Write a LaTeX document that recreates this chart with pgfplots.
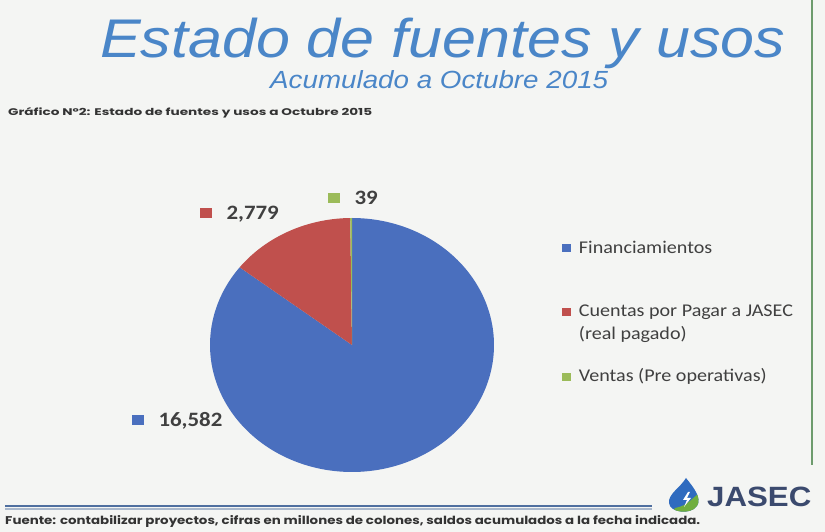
\documentclass[border=0pt]{standalone}
\usepackage{pgfplots}
\pgfplotsset{compat=1.18}
\usepackage{pgfplotstable}
\usepackage{fontspec}
\setmainfont{Liberation Sans}
\newfontfamily\carlito{Carlito}
\newfontfamily\gothic{Poppins}
\definecolor{bgcol}{HTML}{F4F5F3}
\definecolor{titleblue}{HTML}{4A86C8}
\definecolor{pieblue}{HTML}{4A6FBE}
\definecolor{piered}{HTML}{C0504D}
\definecolor{piegreen}{HTML}{9BBB59}
\definecolor{labelgray}{HTML}{404040}
\definecolor{greenline}{HTML}{6D9B6D}
\definecolor{lineblue}{HTML}{4F6F9F}
\definecolor{lightline}{HTML}{A9B8CC}
\definecolor{logoblue}{HTML}{2F6BBF}
\definecolor{logogreen}{HTML}{6FAE3F}
\definecolor{logotext}{HTML}{3B4A6E}

\pgfplotstableread{
label value
Financiamientos 16582
Cuentas 2779
Ventas 39
}\piedata
\pgfplotstablegetelem{0}{value}\of\piedata\edef\va{\pgfplotsretval}
\pgfplotstablegetelem{1}{value}\of\piedata\edef\vb{\pgfplotsretval}
\pgfplotstablegetelem{2}{value}\of\piedata\edef\vc{\pgfplotsretval}
\edef\aOne{\fpeval{round(90-360*\va/(\va+\vb+\vc),4)}}
\edef\aTwo{\fpeval{round(90-360*(\va+\vb)/(\va+\vb+\vc),4)}}
\edef\aThree{\fpeval{round(90-360*(\va+\vb+\vc)/(\va+\vb+\vc),4)}}

\begin{document}
\begin{tikzpicture}
\fill[bgcol] (0,0) rectangle (825bp,532bp);
\useasboundingbox (0,0) rectangle (825bp,532bp);

\begin{scope}[x=1bp, y=-1bp, yshift=532bp]
% titles
\node[anchor=base west, inner sep=0pt, text=titleblue] at (100,58)
  {\resizebox{685bp}{!}{\scalebox{1.12}[1]{\fontsize{54}{60}\selectfont\itshape Estado de fuentes y usos}}};
\node[anchor=base west, inner sep=0pt, text=titleblue] at (270,89)
  {\resizebox{338bp}{!}{\scalebox{1.12}[1]{\fontsize{25}{30}\selectfont\itshape Acumulado a Octubre 2015}}};
\node[anchor=base west, inner sep=0pt, text=labelgray!80!black] at (8,116)
  {\resizebox{364bp}{8bp}{\gothic\bfseries Gráfico Nº2: Estado de fuentes y usos a Octubre 2015}};

% frame decorations
\draw[greenline, line width=2bp] (812,0) -- (812,465);
\draw[lineblue, line width=2.5bp] (5,506) -- (652,506);
\draw[lightline, line width=1.2bp] (5,509) -- (652,509);
\node[anchor=base west, inner sep=0pt, text=labelgray!80!black] at (5,525)
  {\resizebox{695bp}{9bp}{\gothic\bfseries Fuente: contabilizar proyectos, cifras en millones de colones, saldos acumulados a la fecha indicada.}};

% logo
\begin{scope}
\clip (686,478) .. controls (680,488) and (668,494) .. (669,503) .. controls (670,513) and (691,515) .. (697,506) .. controls (702,498) and (694,488) .. (686,478) -- cycle;
\fill[logoblue] (660,470) rectangle (705,520);
\fill[logogreen] (705,488) -- (705,520) -- (668,520) -- (675,508) .. controls (688,506) and (693,497) .. (705,488) -- cycle;
\fill[white] (688,492) -- (683,500) -- (687,500) -- (684,507) -- (691,498) -- (687,498) -- (690,492) -- cycle;
\end{scope}
\node[anchor=base west, inner sep=0pt, text=logotext] at (707,507)
  {\scalebox{1.12}[1]{\fontsize{28}{30}\selectfont\bfseries JASEC}};

% data labels
\node[anchor=base west, inner sep=0pt, text=labelgray] at (328,205)
  {\scalebox{1.12}[1]{\carlito\bfseries\fontsize{20.5}{24}\selectfont\textcolor{piegreen}{\rule[2bp]{10.5bp}{10bp}}\hspace{13bp}39}};
\node[anchor=base west, inner sep=0pt, text=labelgray] at (200,220)
  {\scalebox{1.12}[1]{\carlito\bfseries\fontsize{20.5}{24}\selectfont\textcolor{piered}{\rule[2bp]{10.5bp}{10bp}}\hspace{13bp}2,779}};
\node[anchor=base west, inner sep=0pt, text=labelgray] at (132,427)
  {\scalebox{1.12}[1]{\carlito\bfseries\fontsize{20.5}{24}\selectfont\textcolor{pieblue}{\rule[2bp]{10.5bp}{10bp}}\hspace{13bp}16,582}};
\end{scope}

\begin{axis}[
  at={(352bp,187bp)}, anchor=center,
  width=284bp, height=254bp, scale only axis,
  xmin=-1, xmax=1, ymin=-1, ymax=1,
  hide axis, clip=false,
  legend image code/.code={\fill (0bp,1bp) rectangle (9bp,9bp); \path[fill=none,draw=none] (0bp,0bp) rectangle (17bp,1bp);},
  legend style={at={(1.2394,0.9173)}, anchor=north west, draw=none, fill=none,
    inner sep=0pt, outer sep=0pt, row sep=23bp, text=labelgray,
    cells={anchor=base west},
    nodes={inner sep=0pt, text depth=, text height=},
    font=\carlito\fontsize{18}{23}\selectfont},
]
\addplot[fill=pieblue, draw=none, domain=\aOne:90, samples=200] ({cos(x)},{sin(x)}) -- (0,0) -- cycle;
\addlegendentry{\scalebox{1.12}[1]{\rule[-29bp]{0pt}{43bp}Financiamientos}}
\addplot[fill=piered, draw=none, domain=\aTwo:\aOne, samples=40] ({cos(x)},{sin(x)}) -- (0,0) -- cycle;
\addlegendentry{\scalebox{1.12}[1]{\vtop{\baselineskip=23bp\lineskiplimit=-10bp\hbox{\rule[-6bp]{0pt}{14bp}Cuentas por Pagar a JASEC}\hbox{\rule[-6bp]{0pt}{14bp}(real pagado)}}}}
\addplot[fill=piegreen, draw=none, domain=\aThree:\aTwo, samples=3] ({cos(x)},{sin(x)}) -- (0,0) -- cycle;
\addlegendentry{\scalebox{1.12}[1]{\rule[-6bp]{0pt}{14bp}Ventas (Pre operativas)}}
\end{axis}
\end{tikzpicture}
\end{document}
